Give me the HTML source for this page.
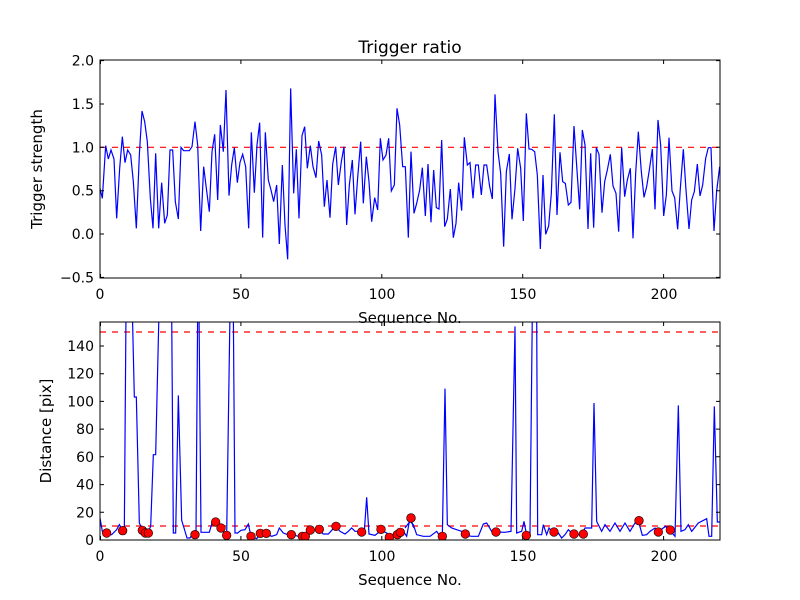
<!DOCTYPE html>
<html><head><meta charset="utf-8"><style>
html,body{margin:0;padding:0;background:#fff}
svg{display:block}
text{font-family:"DejaVu Sans","Liberation Sans",sans-serif;fill:#000}
.ns{vector-effect:non-scaling-stroke}
</style></head><body>
<svg width="800" height="600" viewBox="0 0 800 600" xmlns="http://www.w3.org/2000/svg">
<rect width="800" height="600" fill="#fff"/>
<defs>
<clipPath id="c1"><rect x="100" y="60" width="620" height="218"/></clipPath>
<clipPath id="c2"><rect x="100" y="322" width="620" height="218"/></clipPath>
</defs>
<!-- TOP -->
<g clip-path="url(#c1)">
<line x1="100" y1="147.3" x2="720" y2="147.3" stroke="#f00" stroke-width="1.2" stroke-dasharray="6,6"/>
<g transform="translate(95,55) scale(0.33333)">
<polyline class="ns" fill="none" stroke="#00f" stroke-width="1.2" points="15,400 22,430 32,272 40,312 48,285 57,312 65,490 74,340 82,245 90,323 98,285 107,300 115,380 124,520 133,300 141,168 149,200 157,260 166,430 174,520 182,295 191,520 200,383 209,505 217,480 225,285 233,285 241,440 250,492 258,277 266,287 283,287 291,275 300,200 308,270 317,528 326,335 334,400 343,470 351,290 359,238 368,435 376,210 385,290 393,105 402,422 410,330 418,278 427,383 435,322 443,298 452,335 461,520 469,232 478,413 486,270 494,203 503,548 511,232 520,375 528,405 536,440 545,390 553,567 562,330 570,510 578,613 587,100 596,415 604,283 612,490 621,242 629,215 637,340 646,272 654,335 663,368 671,258 680,300 688,455 696,375 705,488 713,328 722,275 730,390 739,320 747,275 755,510 763,390 772,315 780,478 788,368 797,260 805,445 814,305 822,380 830,500 839,428 848,465 856,250 864,315 873,300 881,250 889,408 898,390 906,160 914,210 923,335 931,335 940,548 948,290 957,475"/>
</g>
<g transform="translate(405,55) scale(0.33333)">
<polyline class="ns" fill="none" stroke="#00f" stroke-width="1.2" points="27,475 35,445 44,405 52,338 61,483 69,327 78,502 86,345 94,458 102,462 110,255 119,515 127,492 136,402 145,548 153,505 161,383 170,467 178,247 187,330 195,323 204,430 212,330 220,330 229,420 237,330 245,330 254,395 262,432 270,118 279,290 287,355 296,575 304,350 313,297 321,493 330,400 338,280 347,340 355,498 364,175 372,282 380,283 389,290 397,360 406,582 414,360 422,538 431,513 439,415 448,178 456,480 465,292 473,380 481,385 490,450 498,442 507,213 515,332 524,463 532,225 540,270 549,522 557,295 566,518 574,278 582,298 591,473 599,380 607,345 616,298 624,393 633,415 641,530 650,278 659,425 667,375 676,340 684,550 692,355 700,230 709,350 717,427 725,395 733,345 742,282 750,463 759,195 767,270 776,483 784,420 792,248 801,408 809,428 818,523 826,400 835,283 843,405 852,522 860,435 868,410 877,327 885,423 893,390 902,310 910,278 918,278 927,528 935,408 944,335"/>
</g>
</g>
<rect x="100" y="60" width="620" height="218" fill="none" stroke="#000" stroke-width="1"/>
<g stroke="#000" stroke-width="1">
<path d="M100.5,278v-4M100.5,60v4M240.9,278v-4M240.9,60v4M381.8,278v-4M381.8,60v4M522.7,278v-4M522.7,60v4M663.6,278v-4M663.6,60v4"/>
<path d="M100,60.6h4M720,60.6h-4M100,104h4M720,104h-4M100,147.3h4M720,147.3h-4M100,190.7h4M720,190.7h-4M100,234h4M720,234h-4M100,277.4h4M720,277.4h-4"/>
</g>
<g font-size="14" text-anchor="middle">
<text x="100" y="299">0</text><text x="241" y="299">50</text><text x="382" y="299">100</text><text x="523" y="299">150</text><text x="664" y="299">200</text>
</g>
<g font-size="14" text-anchor="end">
<text x="94" y="65.6">2.0</text><text x="94" y="109">1.5</text><text x="94" y="152.3">1.0</text><text x="94" y="195.7">0.5</text><text x="94" y="239">0.0</text><text x="94" y="282.4">−0.5</text>
</g>
<text x="410" y="53" font-size="17" text-anchor="middle">Trigger ratio</text>
<text x="410" y="323" font-size="15" text-anchor="middle">Sequence No.</text>
<text transform="translate(42,169) rotate(-90)" font-size="15" text-anchor="middle">Trigger strength</text>

<!-- BOTTOM -->
<g clip-path="url(#c2)">
<line x1="100" y1="332" x2="720" y2="332" stroke="#f00" stroke-width="1.2" stroke-dasharray="6,6"/>
<line x1="100" y1="526" x2="720" y2="526" stroke="#f00" stroke-width="1.2" stroke-dasharray="6,6"/>
<g transform="translate(95,318) scale(0.33333)">
<polyline class="ns" fill="none" stroke="#00f" stroke-width="1.2" points="15,600 22,640 30,650 50,650 65,635 73,620 80,632 88,632 93,-20 112,-20 118,237 124,237 133,615 140,630 148,640 160,640 167,625 175,410 182,410 192,-20 230,-20 235,645 242,645 250,232 260,607 268,633 276,660 285,660 295,645 303,645 308,-20 312,-20 318,643 343,643 352,612 362,620 378,630 395,652 405,-20 415,-20 420,645 428,645 438,637 450,635 460,618 468,655 485,662 495,650 505,648 515,648 530,655 545,650 553,630 565,645 578,650 590,650 600,652 610,655 630,655 640,640 660,635 670,635 685,648 700,648 712,635 722,625 735,640 750,648 760,640 770,630 780,640 808,640 815,538 822,648 840,652 855,640 865,640 875,645 883,660 895,658 905,650 915,643 925,640 935,655 945,600 957,630"/>
</g>
<g transform="translate(405,318) scale(0.33333)">
<polyline class="ns" fill="none" stroke="#00f" stroke-width="1.2" points="0,630 15,610 25,620 35,650 55,655 75,655 95,640 105,655 112,655 120,212 127,620 140,630 155,635 170,640 180,652 200,655 220,655 235,618 245,615 260,640 275,642 300,643 318,640 330,25 335,645 350,640 357,610 365,652 375,645 382,-20 395,-20 398,650 410,650 415,620 425,650 432,630 440,640 450,648 460,645 470,660 480,650 490,635 500,645 515,650 530,650 540,630 560,630 567,255 575,610 590,640 600,620 615,640 630,615 645,640 660,615 675,640 690,615 700,608 712,652 725,650 735,640 750,630 760,642 772,632 782,625 795,638 810,655 820,262 828,640 840,635 850,620 860,640 880,615 905,602 912,655 920,655 928,265 937,612 945,612"/>
</g>
<g fill="#f00" stroke="#000" stroke-width="0.6">
<g transform="translate(95,318) scale(0.33333)">
<circle class="ns" cx="35" cy="645" r="13"/><circle class="ns" cx="83" cy="638" r="13"/><circle class="ns" cx="142" cy="637" r="13"/><circle class="ns" cx="151" cy="645" r="13"/><circle class="ns" cx="160" cy="645" r="13"/><circle class="ns" cx="300" cy="650" r="13"/><circle class="ns" cx="362" cy="612" r="13"/><circle class="ns" cx="378" cy="630" r="13"/><circle class="ns" cx="395" cy="652" r="13"/><circle class="ns" cx="468" cy="655" r="13"/><circle class="ns" cx="496" cy="646" r="13"/><circle class="ns" cx="514" cy="646" r="13"/><circle class="ns" cx="589" cy="650" r="13"/><circle class="ns" cx="622" cy="655" r="13"/><circle class="ns" cx="631" cy="655" r="13"/><circle class="ns" cx="646" cy="636" r="13"/><circle class="ns" cx="673" cy="634" r="13"/><circle class="ns" cx="723" cy="625" r="13"/><circle class="ns" cx="800" cy="642" r="13"/><circle class="ns" cx="858" cy="634" r="13"/><circle class="ns" cx="883" cy="658" r="13"/><circle class="ns" cx="907" cy="650" r="13"/><circle class="ns" cx="916" cy="643" r="13"/><circle class="ns" cx="948" cy="600" r="13"/>
</g>
<g transform="translate(405,318) scale(0.33333)">
<circle class="ns" cx="18" cy="600" r="13"/><circle class="ns" cx="112" cy="655" r="13"/><circle class="ns" cx="181" cy="648" r="13"/><circle class="ns" cx="273" cy="642" r="13"/><circle class="ns" cx="364" cy="652" r="13"/><circle class="ns" cx="447" cy="642" r="13"/><circle class="ns" cx="507" cy="648" r="13"/><circle class="ns" cx="535" cy="648" r="13"/><circle class="ns" cx="702" cy="608" r="13"/><circle class="ns" cx="760" cy="642" r="13"/><circle class="ns" cx="796" cy="636" r="13"/>
</g>
</g>
</g>
<rect x="100" y="322" width="620" height="218" fill="none" stroke="#000" stroke-width="1"/>
<g stroke="#000" stroke-width="1">
<path d="M100.5,540v-4M100.5,322v4M240.9,540v-4M240.9,322v4M381.8,540v-4M381.8,322v4M522.7,540v-4M522.7,322v4M663.6,540v-4M663.6,322v4"/>
<path d="M100,512.3h4M720,512.3h-4M100,484.6h4M720,484.6h-4M100,456.8h4M720,456.8h-4M100,429.1h4M720,429.1h-4M100,401.4h4M720,401.4h-4M100,373.7h4M720,373.7h-4M100,346h4M720,346h-4"/>
</g>
<g font-size="14" text-anchor="middle">
<text x="100" y="561">0</text><text x="241" y="561">50</text><text x="382" y="561">100</text><text x="523" y="561">150</text><text x="664" y="561">200</text>
</g>
<g font-size="14" text-anchor="end">
<text x="94" y="545">0</text><text x="94" y="517.3">20</text><text x="94" y="489.6">40</text><text x="94" y="461.8">60</text><text x="94" y="434.1">80</text><text x="94" y="406.4">100</text><text x="94" y="378.7">120</text><text x="94" y="351">140</text>
</g>
<text x="410" y="585" font-size="15" text-anchor="middle">Sequence No.</text>
<text transform="translate(51,431) rotate(-90)" font-size="15" text-anchor="middle">Distance [pix]</text>
</svg>
</body></html>
